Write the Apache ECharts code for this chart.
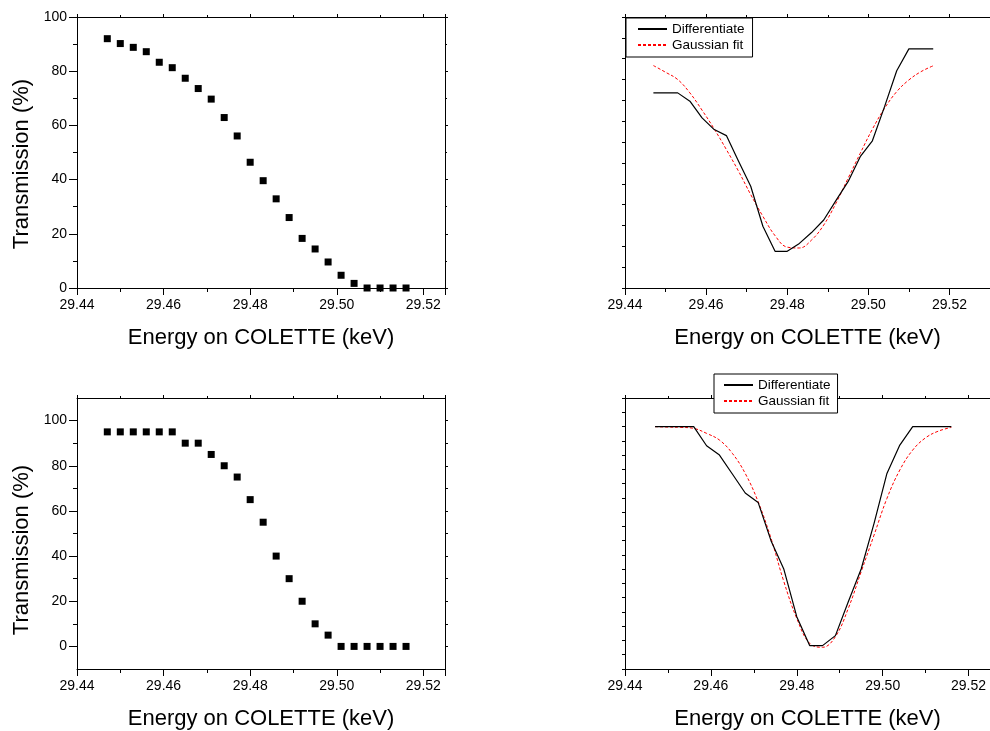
<!DOCTYPE html>
<html>
<head>
<meta charset="utf-8">
<script src="https://cdn.jsdelivr.net/npm/echarts@6/dist/echarts.min.js"></script>
<style>
html,body{margin:0;padding:0;background:#fff;}
#chart{width:990px;height:731px;}
</style>
</head>
<body>
<div id="chart"></div>
<script>
// ---- data ----
var energy = [29.447, 29.450, 29.453, 29.456, 29.459, 29.462, 29.465, 29.468, 29.471, 29.474, 29.477, 29.480,
              29.483, 29.486, 29.489, 29.492, 29.495, 29.498, 29.501, 29.504, 29.507, 29.510, 29.513, 29.516];
var transTop = [92.0, 90.2, 88.8, 87.2, 83.3, 81.3, 77.4, 73.6, 69.7, 62.9, 56.1, 46.4,
                39.6, 32.9, 26.0, 18.3, 14.4, 9.6, 4.7, 1.7, 0, 0, 0, 0];
var transBottom = [95, 95, 95, 95, 95, 95, 90, 90, 85, 80, 75, 65,
                   55, 40, 30, 20, 10, 5, 0, 0, 0, 0, 0, 0];
var diffTop = [93.6, 93.6, 93.6, 89.6, 81.6, 76.0, 73.1, 60.8, 48.8, 29.6, 17.6, 17.6,
               21.4, 26.6, 32.6, 41.9, 51.0, 63.0, 70.6, 87.0, 104.2, 114.7, 114.7, 114.7];
var fitTop = [106.7, 103.5, 100.0, 93.6, 85.3, 76.3, 66.4, 56.0, 44.8, 34.4, 25.1, 19.6,
              19.2, 23.0, 30.2, 40.6, 52.6, 64.6, 76.2, 86.2, 94.2, 99.8, 103.8, 106.6];
var diffBottom = [169.9, 169.9, 169.9, 169.9, 156.5, 150.0, 136.7, 123.4, 116.8, 90.0, 69.9, 36.7,
                  16.4, 16.4, 23.4, 47.2, 70.1, 102.1, 137.1, 157.0, 169.9, 169.9, 169.9, 169.9];
var fitBottom = [169.9, 169.6, 169.4, 168.7, 165.2, 160.5, 151.2, 137.1, 117.3, 91.6, 61.2, 35.5,
                 18.0, 15.2, 22.7, 42.5, 68.2, 93.9, 119.6, 139.5, 153.5, 162.1, 166.8, 169.4];
var transTicks = [0, 20, 40, 60, 80, 100];
var transMinorTicks = [10, 30, 50, 70, 90];
var xLabel = 'Energy on COLETTE (keV)';
var yLabel = 'Transmission (%)';
var legendNames = ['Differentiate', 'Gaussian fit'];

function zip(xs, ys) { return xs.map(function (x, i) { return [x, ys[i]]; }); }

var FONT = 'Liberation Sans, Arial, sans-serif';
var BLACK = '#000';

function xBottom(g, max) {
  return {
    type: 'value', gridIndex: g, position: 'bottom', min: 29.44, max: max, interval: 0.02,
    axisLine: { show: true, onZero: false, lineStyle: { color: BLACK, width: 1 } },
    axisTick: { show: true, length: 7, lineStyle: { color: BLACK } },
    minorTick: { show: true, splitNumber: 2, length: 4, lineStyle: { color: BLACK } },
    splitLine: { show: false }, minorSplitLine: { show: false },
    axisLabel: { fontSize: 14, color: BLACK, fontFamily: FONT, margin: 10, showMaxLabel: false,
      formatter: function (v) { return v.toFixed(2); } },
    name: xLabel, nameLocation: 'middle', nameGap: 39,
    nameTextStyle: { fontSize: 22, color: BLACK, fontFamily: FONT }
  };
}
function xTop(g, max) {
  return {
    type: 'value', gridIndex: g, position: 'top', min: 29.44, max: max, interval: 0.02,
    axisLine: { show: true, onZero: false, lineStyle: { color: BLACK, width: 1 } },
    axisTick: { show: true, length: 3, lineStyle: { color: BLACK } },
    minorTick: { show: true, splitNumber: 2, length: 2, lineStyle: { color: BLACK } },
    splitLine: { show: false }, axisLabel: { show: false }
  };
}
function yPlain(g, max, pos, len) {
  return {
    type: 'value', gridIndex: g, position: pos, min: 0, max: max, interval: 10,
    axisLine: { show: true, onZero: false, lineStyle: { color: BLACK, width: 1 } },
    axisTick: { show: true, length: len, lineStyle: { color: BLACK } },
    splitLine: { show: false }, axisLabel: { show: false }
  };
}
function legendBox(left, top, pad) {
  return { orient: 'vertical', left: left, top: top, data: legendNames, selectedMode: false,
    itemWidth: 29, itemHeight: 12, itemGap: 2, padding: pad,
    borderColor: BLACK, borderWidth: 1, borderRadius: 0, backgroundColor: '#fff',
    itemStyle: { opacity: 0, borderWidth: 0 },
    textStyle: { fontSize: 13.5, color: BLACK, fontFamily: FONT, lineHeight: 14 } };
}

var option = {
  animation: false,
  backgroundColor: '#fff',
  textStyle: { fontFamily: FONT },
  grid: [
    { left: 77, top: 17, width: 368, height: 271 },
    { left: 625, top: 17, width: 369, height: 271 },
    { left: 77, top: 398, width: 368, height: 271 },
    { left: 625, top: 398, width: 368, height: 271 }
  ],
  xAxis: [
    xBottom(0, 29.525), xTop(0, 29.525),
    xBottom(1, 29.53), xTop(1, 29.53),
    xBottom(2, 29.525), xTop(2, 29.525),
    xBottom(3, 29.525), xTop(3, 29.525)
  ],
  yAxis: [
    { type: 'value', gridIndex: 0, position: 'left', min: 0, max: 100, interval: 20,
      axisLine: { show: true, onZero: false, lineStyle: { color: BLACK } },
      axisTick: { show: true, length: 8, lineStyle: { color: BLACK } },
      minorTick: { show: true, splitNumber: 2, length: 4, lineStyle: { color: BLACK } },
      splitLine: { show: false }, minorSplitLine: { show: false },
      axisLabel: { fontSize: 14, color: BLACK, fontFamily: FONT, margin: 10 } },
    { type: 'value', gridIndex: 0, position: 'right', min: 0, max: 100, interval: 20,
      axisLine: { show: true, onZero: false, lineStyle: { color: BLACK } },
      axisTick: { show: true, length: 3, lineStyle: { color: BLACK } },
      minorTick: { show: true, splitNumber: 2, length: 2, lineStyle: { color: BLACK } },
      splitLine: { show: false }, axisLabel: { show: false } },
    yPlain(1, 130, 'left', 3), yPlain(1, 130, 'right', 3),
    { type: 'value', gridIndex: 2, position: 'left', min: -10, max: 110,
      axisLine: { show: true, onZero: false, lineStyle: { color: BLACK } },
      axisTick: { show: true, length: 8, customValues: transTicks, lineStyle: { color: BLACK } },
      splitLine: { show: false },
      axisLabel: { fontSize: 14, color: BLACK, fontFamily: FONT, margin: 10, customValues: transTicks,
        formatter: function (v) { return (v >= 0 && v <= 100 && v % 20 === 0) ? String(v) : ''; } } },
    { type: 'value', gridIndex: 2, position: 'right', min: -10, max: 110,
      axisLine: { show: true, onZero: false, lineStyle: { color: BLACK } },
      axisTick: { show: true, length: 3, customValues: transTicks.concat(transMinorTicks), lineStyle: { color: BLACK } },
      splitLine: { show: false }, axisLabel: { show: false } },
    yPlain(3, 190, 'left', 3), yPlain(3, 190, 'right', 3),
    { type: 'value', gridIndex: 2, position: 'left', min: -10, max: 110,
      axisLine: { show: false },
      axisTick: { show: true, length: 4, customValues: transMinorTicks, lineStyle: { color: BLACK } },
      splitLine: { show: false }, axisLabel: { show: false } }
  ],
  legend: [
    legendBox(626, 18, [4, 8, 5, 11]),
    legendBox(714, 374, [4, 7, 5, 9])
  ],
  graphic: [
    { type: 'text', x: 22, y: 164, rotation: Math.PI / 2,
      style: { text: yLabel, fontSize: 22, fontFamily: FONT, fill: BLACK, align: 'center', verticalAlign: 'middle' } },
    { type: 'text', x: 22, y: 550, rotation: Math.PI / 2,
      style: { text: yLabel, fontSize: 22, fontFamily: FONT, fill: BLACK, align: 'center', verticalAlign: 'middle' } }
  ],
  series: [
    { type: 'scatter', name: 'T1', xAxisIndex: 0, yAxisIndex: 0, data: zip(energy, transTop),
      symbol: 'rect', symbolSize: 7, itemStyle: { color: BLACK, opacity: 1 } },
    { type: 'scatter', name: 'T2', xAxisIndex: 4, yAxisIndex: 4, data: zip(energy, transBottom),
      symbol: 'rect', symbolSize: 7, itemStyle: { color: BLACK, opacity: 1 } },
    { type: 'line', name: 'Gaussian fit', xAxisIndex: 2, yAxisIndex: 2, data: zip(energy, fitTop),
      symbol: 'none', smooth: 0.4, lineStyle: { color: '#ff0000', width: 1, type: [3, 2] }, itemStyle: { color: '#ff0000' } },
    { type: 'line', name: 'Differentiate', xAxisIndex: 2, yAxisIndex: 2, data: zip(energy, diffTop),
      symbol: 'none', lineStyle: { color: BLACK, width: 1.2 }, itemStyle: { color: BLACK } },
    { type: 'line', name: 'Gaussian fit', xAxisIndex: 6, yAxisIndex: 6, data: zip(energy, fitBottom),
      symbol: 'none', smooth: 0.4, lineStyle: { color: '#ff0000', width: 1, type: [3, 2] }, itemStyle: { color: '#ff0000' } },
    { type: 'line', name: 'Differentiate', xAxisIndex: 6, yAxisIndex: 6, data: zip(energy, diffBottom),
      symbol: 'none', lineStyle: { color: BLACK, width: 1.2 }, itemStyle: { color: BLACK } }
  ]
};

var chart = echarts.init(document.getElementById('chart'), null, { renderer: 'canvas' });
chart.setOption(option);
</script>
</body>
</html>
